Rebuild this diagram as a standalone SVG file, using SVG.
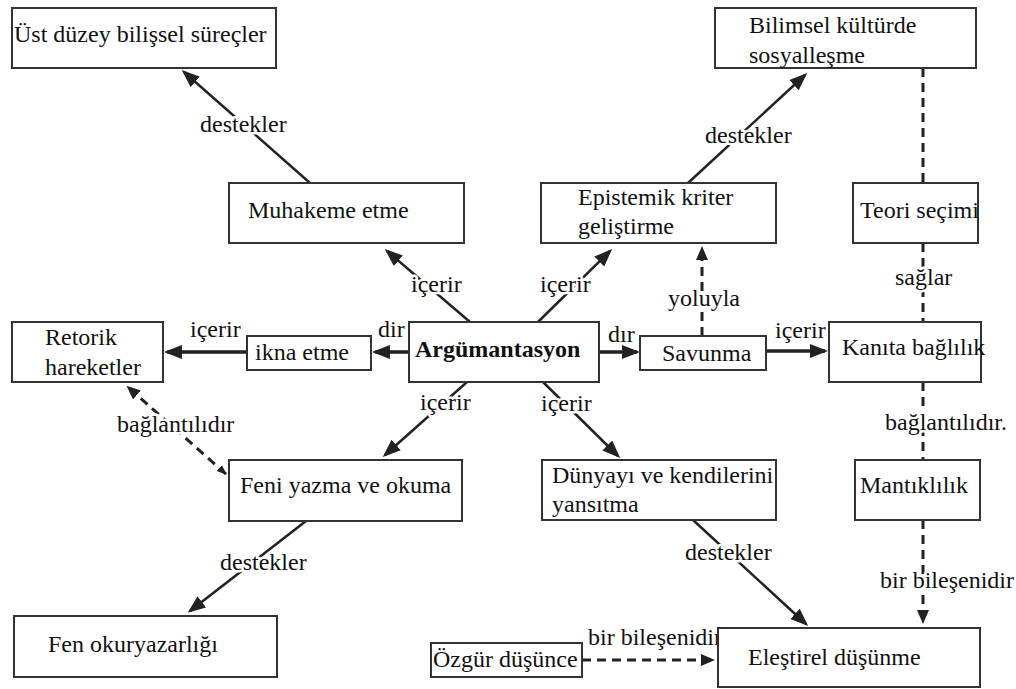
<svg xmlns="http://www.w3.org/2000/svg" width="1016" height="689" viewBox="0 0 1016 689" font-family="'Liberation Serif', 'Times New Roman', serif">
<defs>
<style>
.box{fill:#fff;stroke:#333;stroke-width:2}
.t{font-family:'Liberation Serif','Times New Roman',serif;font-size:24px;fill:#111}
.b{font-weight:bold}
.lbl{font-family:'Liberation Serif','Times New Roman',serif;font-size:24px;fill:#111;stroke:#fff;stroke-width:5;paint-order:stroke;stroke-linejoin:round}
.ln{stroke:#222;stroke-width:2.5;fill:none}
.th{stroke:#222;stroke-width:3.5;fill:none}
.ds{stroke:#222;stroke-width:3;fill:none;stroke-dasharray:9 6}
</style>
<marker id="ah" markerUnits="userSpaceOnUse" markerWidth="20" markerHeight="16" refX="15" refY="7" orient="auto">
<path d="M0,0 L18,7 L0,14 z" fill="#222"/>
</marker>
<marker id="ahs" markerUnits="userSpaceOnUse" markerWidth="16" markerHeight="14" refX="12" refY="6" orient="auto-start-reverse">
<path d="M0,0 L14,6 L0,12 z" fill="#222"/>
</marker>
<marker id="ahx" markerUnits="userSpaceOnUse" markerWidth="12" markerHeight="10" refX="9" refY="4" orient="auto-start-reverse">
<path d="M0,0 L10,4 L0,8 z" fill="#222"/>
</marker>
</defs>
<rect width="1016" height="689" fill="#fff"/>

<g id="connectors">
<line class="ln" x1="310" y1="183" x2="184" y2="72" marker-end="url(#ah)"/>
<line class="ln" x1="470" y1="322" x2="387" y2="251" marker-end="url(#ah)"/>
<line class="ln" x1="538" y1="322" x2="610" y2="251" marker-end="url(#ah)"/>
<line class="ln" x1="688" y1="183" x2="805" y2="75" marker-end="url(#ah)"/>
<line class="ds" x1="923" y1="68" x2="923" y2="183"/>
<line class="ds" x1="923" y1="243" x2="923" y2="322"/>
<line class="ds" x1="923" y1="382" x2="923" y2="460"/>
<line class="ds" x1="923" y1="520" x2="923" y2="622" marker-end="url(#ahs)"/>
<line class="th" x1="409" y1="352" x2="375" y2="352" marker-end="url(#ah)"/>
<line class="th" x1="247" y1="352" x2="167" y2="352" marker-end="url(#ah)"/>
<line class="th" x1="599" y1="352" x2="637" y2="352" marker-end="url(#ah)"/>
<line class="th" x1="766" y1="351" x2="825" y2="351" marker-end="url(#ah)"/>
<line class="ds" x1="702" y1="336" x2="702" y2="248" marker-end="url(#ahs)"/>
<line class="ds" x1="226" y1="474" x2="128" y2="387" marker-start="url(#ahx)" marker-end="url(#ahs)"/>
<line class="ln" x1="467" y1="382" x2="385" y2="455" marker-end="url(#ah)"/>
<line class="ln" x1="543" y1="382" x2="618" y2="456" marker-end="url(#ah)"/>
<line class="ln" x1="306" y1="521" x2="190" y2="611" marker-end="url(#ah)"/>
<line class="ln" x1="693" y1="520" x2="806" y2="624" marker-end="url(#ah)"/>
<line class="ds" x1="582" y1="660" x2="713" y2="660" marker-end="url(#ahs)"/>
<text class="lbl" x="200" y="132">destekler</text>
<text class="lbl" x="411" y="292">içerir</text>
<text class="lbl" x="540" y="292">içerir</text>
<text class="lbl" x="705" y="143">destekler</text>
<text class="lbl" x="895" y="285">sağlar</text>
<text class="lbl" x="885" y="430">bağlantılıdır.</text>
<text class="lbl" x="880" y="588">bir bileşenidir</text>
<text class="lbl" x="378" y="337">dir</text>
<text class="lbl" x="190" y="337">içerir</text>
<text class="lbl" x="608" y="342">dır</text>
<text class="lbl" x="775" y="338">içerir</text>
<text class="lbl" x="668" y="306">yoluyla</text>
<text class="lbl" x="117" y="432">bağlantılıdır</text>
<text class="lbl" x="420" y="410">içerir</text>
<text class="lbl" x="541" y="411">içerir</text>
<text class="lbl" x="220" y="570">destekler</text>
<text class="lbl" x="685" y="560">destekler</text>
<text class="lbl" x="588" y="645">bir bileşenidir</text>
</g>

<g id="ust"><rect class="box" x="12" y="8" width="264" height="60"/><text class="t" x="14" y="42">Üst düzey bilişsel süreçler</text></g>
<g id="bilimsel"><rect class="box" x="715" y="8" width="261" height="60"/><text class="t" x="749" y="33">Bilimsel kültürde</text><text class="t" x="749" y="63">sosyalleşme</text></g>
<g id="muhakeme"><rect class="box" x="229" y="183" width="235" height="60"/><text class="t" x="248" y="218">Muhakeme etme</text></g>
<g id="epistemik"><rect class="box" x="541" y="183" width="235" height="60"/><text class="t" x="578" y="205">Epistemik kriter</text><text class="t" x="578" y="234">geliştirme</text></g>
<g id="teori"><rect class="box" x="853" y="183" width="125" height="60"/><text class="t" x="860" y="218">Teori seçimi</text></g>
<g id="retorik"><rect class="box" x="12" y="322" width="151" height="60"/><text class="t" x="45" y="345">Retorik</text><text class="t" x="45" y="375">hareketler</text></g>
<g id="ikna"><rect class="box" x="247" y="336" width="124" height="34"/><text class="t" x="255" y="360">ikna etme</text></g>
<g id="argumantasyon"><rect class="box" x="409" y="322" width="190" height="60"/><text class="t b" x="415" y="357">Argümantasyon</text></g>
<g id="savunma"><rect class="box" x="640" y="336" width="126" height="34"/><text class="t" x="662" y="361">Savunma</text></g>
<g id="kanita"><rect class="box" x="829" y="322" width="152" height="60"/><text class="t" x="842" y="355">Kanıta bağlılık</text></g>
<g id="feni"><rect class="box" x="229" y="460" width="233" height="61"/><text class="t" x="240" y="493">Feni yazma ve okuma</text></g>
<g id="dunyayi"><rect class="box" x="542" y="460" width="234" height="60"/><text class="t" x="552" y="483">Dünyayı ve kendilerini</text><text class="t" x="552" y="512">yansıtma</text></g>
<g id="mantiklilik"><rect class="box" x="855" y="460" width="125" height="60"/><text class="t" x="860" y="493">Mantıklılık</text></g>
<g id="fen"><rect class="box" x="14" y="616" width="263" height="61"/><text class="t" x="48" y="652">Fen okuryazarlığı</text></g>
<g id="ozgur"><rect class="box" x="431" y="643" width="151" height="34"/><text class="t" x="433" y="667">Özgür düşünce</text></g>
<g id="elestirel"><rect class="box" x="718" y="628" width="262" height="59"/><text class="t" x="748" y="665">Eleştirel düşünme</text></g>
</svg>
